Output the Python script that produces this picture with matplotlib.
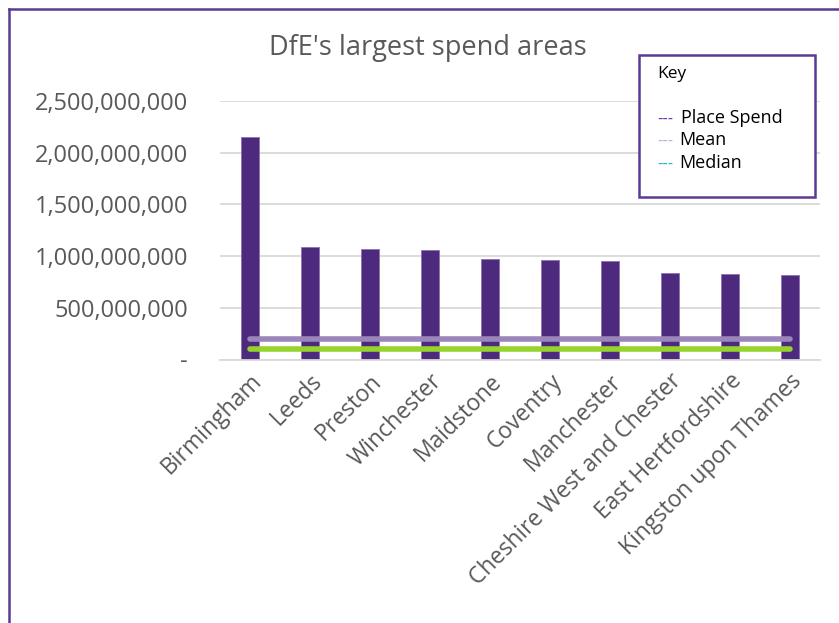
import numpy as np
import matplotlib
matplotlib.use('Agg')
import matplotlib.pyplot as plt
from matplotlib.patches import Rectangle
from matplotlib.lines import Line2D
from matplotlib.ticker import FuncFormatter

plt.rcParams['font.family'] = ['Open Sans', 'DejaVu Sans']

# data
areas = ['Birmingham', 'Leeds', 'Preston', 'Winchester', 'Maidstone', 'Coventry',
         'Manchester', 'Cheshire West and Chester', 'East Hertfordshire',
         'Kingston upon Thames']
place_spend = [2149e6, 1085e6, 1066e6, 1059e6, 969e6, 960e6, 950e6, 839e6, 830e6, 820e6]
mean_spend = 201e6
median_spend = 102e6
y_ticks = [0, 500e6, 1000e6, 1500e6, 2000e6, 2500e6]

text_grey = '#595959'
purple = '#4e2a7e'

fig = plt.figure(figsize=(8.39, 6.23), dpi=100)
W, H = 839, 623
ax = fig.add_axes([220 / W, 1 - 359.5 / H, 600 / W, 258.5 / H])

x = np.arange(len(areas))
ax.bar(x, place_spend, width=0.3, color=purple, edgecolor='#8a72b0', linewidth=0.6, zorder=2)
ax.plot(x, [mean_spend] * len(x), color='#9b86b9', lw=4, solid_capstyle='round', zorder=3)
ax.plot(x, [median_spend] * len(x), color='#96d42d', lw=4, solid_capstyle='round', zorder=3)

ax.set_xlim(-0.5, len(areas) - 0.5)
ax.set_ylim(0, 2500e6)
ax.set_yticks(y_ticks)
ax.yaxis.set_major_formatter(FuncFormatter(lambda v, p: '-' if v == 0 else f'{v:,.0f}'))
ax.tick_params(axis='y', length=0, labelsize=17, labelcolor=text_grey, pad=23)
ax.set_xticks(x)
ax.set_xticklabels(areas, rotation=45, ha='right', rotation_mode='anchor')
ax.tick_params(axis='x', length=0, labelsize=16.5, labelcolor=text_grey, pad=7)
ax.grid(axis='y', color='#d9d9d9', lw=1.3, zorder=0)
for s in ['top', 'right', 'left']:
    ax.spines[s].set_visible(False)
ax.spines['bottom'].set_color('#d9d9d9')
ax.spines['bottom'].set_linewidth(1.3)

fig.text(428 / W, 1 - 48 / H, "DfE's largest spend areas", ha='center', va='center',
         fontsize=19.5, color=text_grey)

# outer frame (cut off at right and bottom)
fig.add_artist(Line2D([9 / W, 9 / W], [0, 1 - 9 / H], color='#5b3a93', lw=1.8))
fig.add_artist(Line2D([9 / W, 1], [1 - 9 / H, 1 - 9 / H], color='#5b3a93', lw=1.8))

# key box
fig.add_artist(Rectangle((639 / W, 1 - 197 / H), 176 / W, 142 / H, transform=fig.transFigure,
                         fill=True, facecolor='white', edgecolor='#5b3a93', lw=1.8, zorder=5))
fig.text(657 / W, 1 - 74 / H, 'Key', fontsize=12.5, color='black', va='center', zorder=6)
key_items = ['Place Spend', 'Mean', 'Median']
key_colors = ['#6a3fb0', '#c3aee6', '#2ab7cc']
for i, (lab, c) in enumerate(zip(key_items, key_colors)):
    yy = 1 - (118 + 22.5 * i) / H
    fig.text(657 / W, yy, '---', fontsize=10.5, color=c, va='center', zorder=6,
             family='DejaVu Sans')
    fig.text((681 if i == 0 else 679) / W, yy, lab, fontsize=13, color='black',
             va='center', zorder=6)

fig.savefig('out.png', dpi=100)
